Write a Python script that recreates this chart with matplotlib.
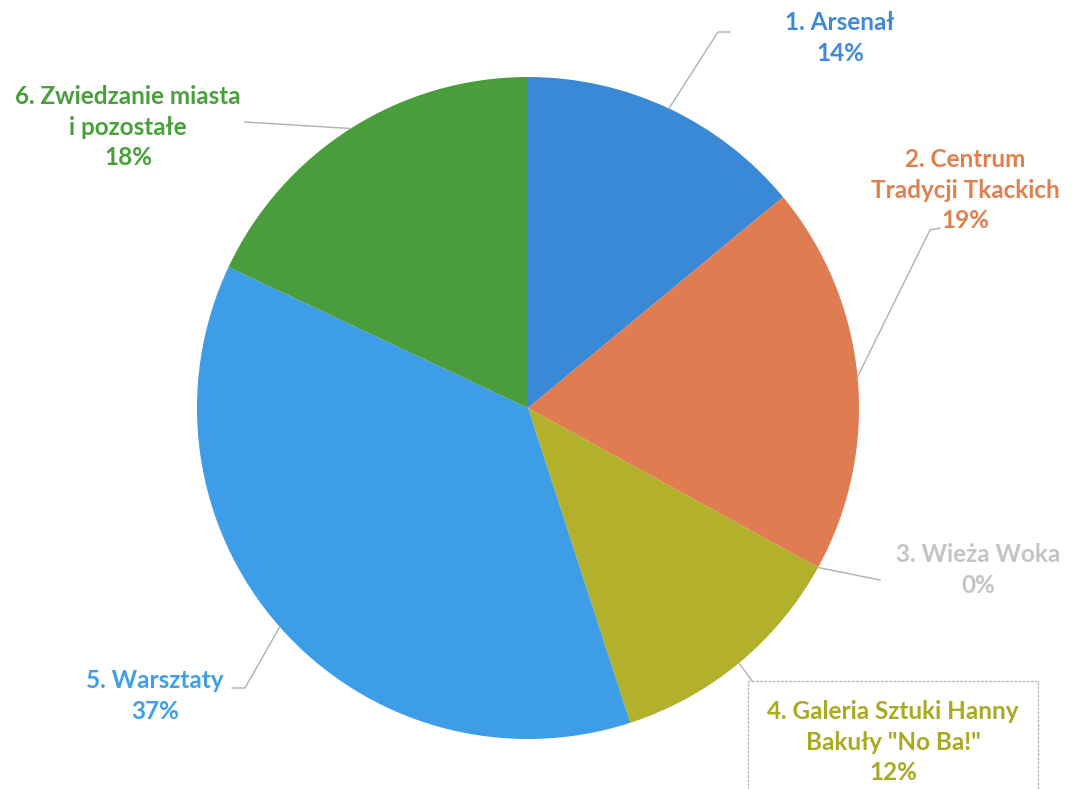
import matplotlib.pyplot as plt
import numpy as np

# ----------------------------
# Data
# ----------------------------
labels = ["1. Arsenał", "2. Centrum\nTradycji Tkackich", "3. Wieża Woka",
          "4. Galeria Sztuki Hanny\nBakuły \"No Ba!\"", "5. Warsztaty",
          "6. Zwiedzanie miasta\ni pozostałe"]
values = [14, 19, 0, 12, 37, 18]
colors = ["#3a89d6", "#e07c52", "#bdbdbd", "#b3b02c", "#3d9de6", "#4a9c3c"]
text_colors = ["#3f8ad8", "#e0804e", "#c4c4c4", "#a9a922", "#3f9fe8", "#47a03a"]

# label block centres and leader elbows (pixel coords, y down)
label_pos = [(840, 38), (965, 190), (978, 570), (893, 742), (155, 696), (128, 127)]
elbows = [[(718, 32), (730, 32)], [(930, 230), (940, 228)], [(880, 580)],
          [(752, 681)], [(245, 688), (232, 688)], [(245, 122)]]

W, H = 1072, 789
cx, cy, r = 528, 408, 331

fig = plt.figure(figsize=(W / 100, H / 100), dpi=100)
ax = fig.add_axes([0, 0, 1, 1])

wedges, _ = ax.pie(values, colors=colors, startangle=90, counterclock=False,
                   center=(cx, H - cy), radius=r, frame=True)
# pie draws in y-up coords; flip it into the y-down frame
for w in wedges:
    w.set_center((cx, cy))
    t1, t2 = w.theta1, w.theta2
    w.set_theta1(-t2)
    w.set_theta2(-t1)
ax.set_xlim(0, W)
ax.set_ylim(H, 0)
ax.set_aspect("equal")
ax.axis("off")

# leader lines + labels
for i, w in enumerate(wedges):
    mid = np.deg2rad((w.theta1 + w.theta2) / 2)
    sx, sy = cx + r * np.cos(mid), cy + r * np.sin(mid)
    pts = [(sx, sy)] + elbows[i]
    xs, ys = zip(*pts)
    ax.plot(xs, ys, color="#b0b0b0", lw=1)
    txt = labels[i] + "\n" + f"{values[i]}%"
    lx, ly = label_pos[i]
    bbox = None
    if i == 3:
        bbox = dict(boxstyle="square,pad=0.8", fc="white", ec="#b8b8b8", lw=1, ls=(0, (2, 1)))
    ax.text(lx, ly, txt, ha="center", va="center", fontsize=17.5, fontweight="bold",
            family="Lato", color=text_colors[i], linespacing=1.38, bbox=bbox)

plt.savefig("out.png", dpi=100)
plt.close()
